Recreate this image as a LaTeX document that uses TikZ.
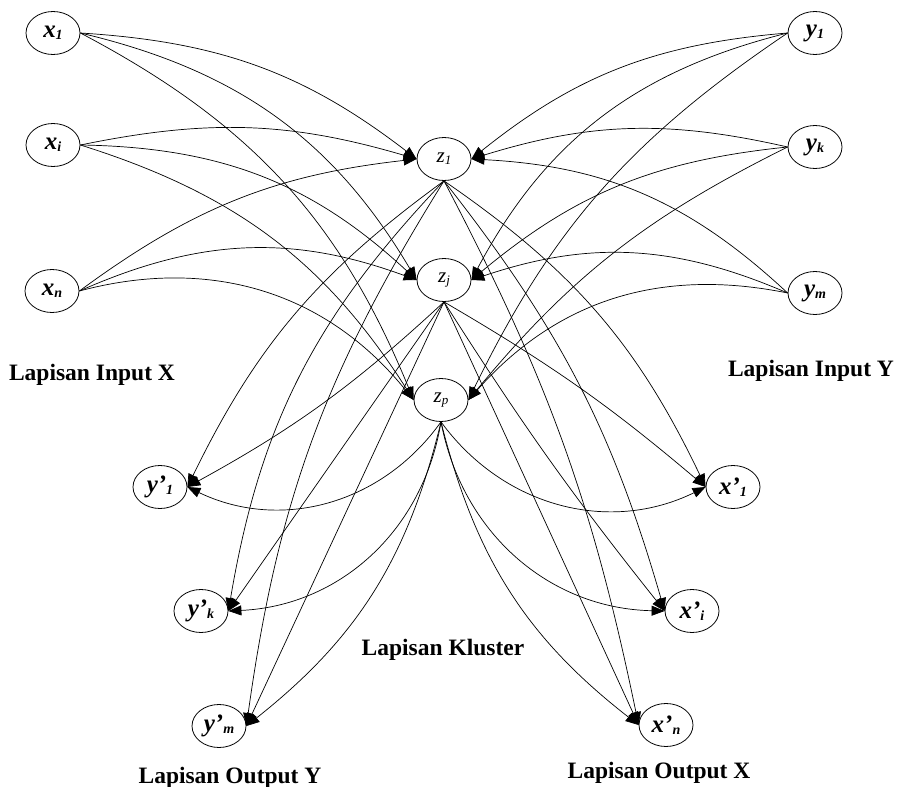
\documentclass[tikz,border=0pt]{standalone}
\usepackage{fontspec}
\setmainfont{Liberation Serif}
\usetikzlibrary{shapes.geometric,arrows.meta}
\newcommand{\nlab}[2]{{\fontsize{25}{26}\selectfont\bfseries\itshape #1}{\fontsize{14}{15}\selectfont\bfseries\itshape\raisebox{-2pt}{#2}}}
\newcommand{\zlab}[1]{{\fontsize{21}{22}\selectfont\itshape z}{\fontsize{13}{14}\selectfont\itshape\raisebox{-2pt}{#1}}}
\tikzset{
  neuron/.style={ellipse, draw, line width=0.8pt, minimum width=54pt, minimum height=43pt, inner sep=0pt},
  conn/.style={line width=0.7pt, -{Triangle[length=13pt,width=10pt]}},
  layerlabel/.style={font=\fontsize{23.5}{26}\selectfont\bfseries}
}
\begin{document}
\begin{tikzpicture}[x=1pt,y=-1pt]
\useasboundingbox (0,0) rectangle (898,787);
% input X
\node[neuron] (x1) at (53,33) {\nlab{x}{1}};
\node[neuron] (xi) at (53,145) {\nlab{x}{i}};
\node[neuron] (xn) at (52,291) {\nlab{x}{n}};
% input Y
\node[neuron] (y1) at (815,33) {\nlab{y}{1}};
\node[neuron] (yk) at (815,147) {\nlab{y}{k}};
\node[neuron] (ym) at (815,293) {\nlab{y}{m}};
% cluster
\node[neuron] (z1) at (444,159) {\zlab{1}};
\node[neuron] (zj) at (444,280) {\zlab{j}};
\node[neuron] (zp) at (441,400) {\zlab{p}};
% output Y
\node[neuron] (oy1) at (160,487) {\nlab{y’}{1}};
\node[neuron] (oyk) at (201,611) {\nlab{y’}{k}};
\node[neuron] (oym) at (219,726) {\nlab{y’}{m}};
% output X
\node[neuron] (ox1) at (733,487) {\nlab{x’}{1}};
\node[neuron] (oxi) at (692,611) {\nlab{x’}{i}};
\node[neuron] (oxn) at (666,725) {\nlab{x’}{n}};
% layer labels
\node[layerlabel] (lix) at (92,375) {Lapisan Input X};
\node[layerlabel] (liy) at (811,371) {Lapisan Input Y};
\node[layerlabel] (lk) at (443,650) {Lapisan Kluster};
\node[layerlabel] (loy) at (230,778) {Lapisan Output Y};
\node[layerlabel] (lox) at (659,773) {Lapisan Output X};
% X -> Z
\draw[conn] (x1.east) to[bend left=17] (z1.west);
\draw[conn] (x1.east) to[bend left=23] (zj.west);
\draw[conn] (x1.east) to[bend left=20] (zp.west);
\draw[conn] (xi.east) to[bend left=14] (z1.west);
\draw[conn] (xi.east) to[bend left=21] (zj.west);
\draw[conn] (xi.east) to[bend left=20] (zp.west);
\draw[conn] (xn.east) to[bend left=15] (z1.west);
\draw[conn] (xn.east) to[bend left=22] (zj.west);
\draw[conn] (xn.east) to[bend left=33] (zp.west);
% Y -> Z
\draw[conn] (y1.west) to[bend right=17] (z1.east);
\draw[conn] (y1.west) to[bend right=24] (zj.east);
\draw[conn] (y1.west) to[bend right=15] (zp.east);
\draw[conn] (yk.west) to[bend right=15] (z1.east);
\draw[conn] (yk.west) to[bend right=17] (zj.east);
\draw[conn] (yk.west) to[bend right=12] (zp.east);
\draw[conn] (ym.west) to[bend right=20] (z1.east);
\draw[conn] (ym.west) to[bend right=21] (zj.east);
\draw[conn] (ym.west) to[bend right=30] (zp.east);
% Z -> X'
\draw[conn] (z1.south) to[bend left=15] (ox1.west);
\draw[conn] (z1.south) to[bend left=11] (oxi.west);
\draw[conn] (z1.south) to[bend left=8] (oxn.west);
\draw[conn] (zj.south) to[bend left=5] (ox1.west);
\draw[conn] (zj.south) to[bend right=3] (oxi.west);
\draw[conn] (zj.south) to (oxn.west);
\draw[conn] (zp.south) to[bend right=40] (ox1.west);
\draw[conn] (zp.south) to[bend right=39] (oxi.west);
\draw[conn] (zp.south) to[bend right=19] (oxn.west);
% Z -> Y'
\draw[conn] (z1.south) to[bend right=14] (oy1.east);
\draw[conn] (z1.south) to[bend right=17] (oyk.east);
\draw[conn] (z1.south) to[bend right=12] (oym.east);
\draw[conn] (zj.south) to[bend left=7] (oy1.east);
\draw[conn] (zj.south) to (oyk.east);
\draw[conn] (zj.south) to (oym.east);
\draw[conn] (zp.south) to[bend left=40] (oy1.east);
\draw[conn] (zp.south) to[bend left=39] (oyk.east);
\draw[conn] (zp.south) to[bend left=19] (oym.east);
\end{tikzpicture}
\end{document}
